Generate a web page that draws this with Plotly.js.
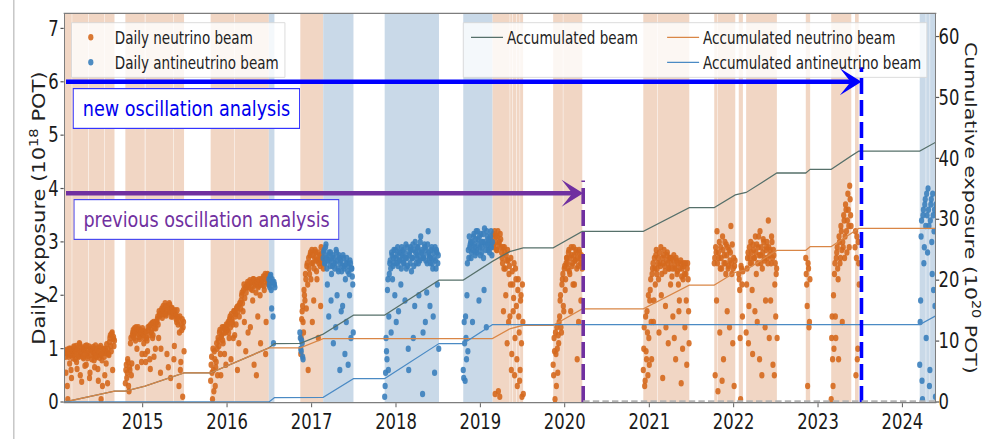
<!DOCTYPE html>
<html>
<head>
<meta charset="utf-8">
<script src="https://cdn.plot.ly/plotly-3.0.1.min.js"></script>
<style>
  html, body { margin: 0; padding: 0; background: #fff; overflow: hidden; width: 988px; height: 439px; }
  /* the figure is laid out 25% wider and squeezed back to 988 px, giving its narrow lettering */
  #chart { width: 1235px; height: 439px; transform: scaleX(0.8); transform-origin: 0 0; }
</style>
</head>
<body>
<div id="chart"></div>
<script>
// Days between stored samples of each daily exposure series; the "b" series sit halfway in between
const SAMPLE_DAYS = 4;
const B_OFFSET_DAYS = 2;

// Daily neutrino-mode exposure (10^18 POT), one pair of arrays per running period
const nuRunStarts = ['2014-01-30', '2014-10-18', '2015-10-22', '2016-11-15', '2019-02-22', '2019-11-12',
                     '2020-12-06', '2021-10-09', '2022-01-23', '2022-02-24', '2022-11-09', '2023-02-27', '2023-06-10'];
const nuRun1 = [0.92, 0.55, 0.98, 0.05, 0.85, 0.72, 1.0, 0.45, 0.95, 0.88, 1.02, 0.8, 1.05, 0.62, 0.97, 0.85, 1.08, 0.9,
                0.38, 1.0, 0.82, 0.96, 1.05, 0.7, 0.92, 0.86, 1.04, 0.55, 0.98, 0.8, 1.0, 0.9, 0.65, 1.06, 0.84, 0.95,
                0.4, 1.02, 0.88, 0.05, 0.78, 1.0, 0.92, 0.5, 0.96, 1.08, 0.35, 0.9, 1.12, 1.25, 0.95, 1.3, 1.18, 1.05];
const nuRun1b = [0.85, 0.95, 0.3, 0.9, 1.0, 0.88, 0.6, 0.97, 0.82, 1.04, 0.9, 0.95, 0.75, 1.0, 0.86, 1.1, 0.5, 0.93,
                 1.02, 0.85, 0.98, 0.68, 0.9, 1.06, 0.82, 0.97, 0.45, 1.0, 0.88, 0.95, 1.03, 0.78, 0.92, 0.86, 1.0, 0.62,
                 0.94, 0.83, 1.05, 0.9, 0.3, 0.97, 0.85, 1.0, 0.72, 0.92, 1.0, 0.88, 1.2, 1.05, 1.28, 0.6, 1.22, 1.15];
const nuRun2 = [0.35, 0.7, 0.55, 0.75, 0.2, 0.6, 1.2, 0.72, 1.3, 1.25, 1.38, 1.15, 1.32, 0.65, 1.4, 1.22, 1.35, 1.28,
                0.9, 1.33, 1.1, 1.3, 0.75, 1.2, 0.95, 1.35, 1.42, 0.62, 1.3, 1.48, 1.25, 0.85, 1.45, 1.38, 1.5, 1.6,
                1.2, 1.65, 0.55, 1.72, 1.58, 1.8, 1.7, 1.85, 1.62, 0.9, 1.78, 1.68, 1.82, 0.45, 1.75, 1.6, 1.7, 1.05,
                1.65, 1.55, 1.72, 1.45, 0.3, 1.6, 0.75, 1.35, 0.1, 1.5];
const nuRun2b = [0.6, 0.45, 0.8, 0.3, 0.65, 1.1, 0.5, 1.25, 1.35, 1.2, 1.3, 1.4, 1.0, 1.28, 1.36, 1.18, 1.3, 0.75,
                 1.38, 1.25, 1.2, 0.9, 1.32, 1.15, 1.4, 1.25, 0.8, 1.45, 1.35, 1.2, 1.5, 1.38, 1.0, 1.5, 1.55, 1.45,
                 1.7, 1.62, 1.0, 1.75, 1.65, 1.7, 1.78, 1.65, 1.8, 1.72, 0.65, 1.85, 1.7, 1.6, 1.76, 1.68, 0.8, 1.72,
                 1.62, 1.5, 1.6, 1.55, 1.3, 0.6, 1.45, 1.55, 1.4, 0.95];
const nuRun3 = [0.4, 0.85, 0.05, 0.6, 0.95, 0.3, 0.75, 1.0, 1.2, 1.05, 1.35, 0.5, 1.25, 1.15, 1.4, 0.9, 1.3, 1.45,
                1.35, 1.5, 1.2, 1.6, 0.8, 1.55, 1.45, 1.7, 1.25, 1.65, 1.75, 0.6, 1.8, 1.6, 1.85, 1.9, 2.05, 1.7,
                2.2, 1.95, 0.95, 2.15, 2.25, 2.15, 2.2, 1.4, 2.25, 2.1, 2.3, 0.7, 2.2, 2.05, 2.28, 1.6, 2.18, 2.22,
                1.1, 2.3, 2.2, 2.35, 2.1, 2.4, 1.5, 2.25, 2.38];
const nuRun3b = [0.7, 0.55, 1.0, 0.2, 0.8, 0.65, 1.1, 0.5, 1.15, 1.3, 0.9, 1.22, 1.4, 1.1, 1.3, 1.38, 0.7, 1.35,
                 1.45, 1.3, 1.55, 1.4, 1.65, 1.5, 1.2, 1.7, 1.6, 1.45, 1.78, 1.7, 1.1, 1.85, 1.75, 2.0, 1.85, 2.1,
                 1.5, 2.15, 2.05, 2.2, 1.3, 2.2, 2.28, 2.12, 2.25, 1.9, 2.3, 2.18, 2.22, 0.5, 2.25, 2.15, 2.3, 2.0,
                 2.2, 2.28, 2.3, 2.18, 2.35, 0.9, 2.28, 2.4, 2.2];
const nuRun4 = [0.9, 1.55, 1.8, 1.3, 2.0, 2.4, 1.75, 2.6, 0.6, 2.5, 2.75, 2.3, 2.85, 2.6, 1.9, 2.7, 2.8, 2.45, 2.65,
                1.2, 2.75, 2.55, 2.9, 2.6, 2.7];
const nuRun4b = [1.2, 1.7, 1.5, 2.1, 1.9, 2.3, 2.55, 2.2, 2.7, 2.4, 2.8, 2.6, 1.5, 2.75, 2.5, 2.85, 2.65, 2.3, 2.8,
                 2.6, 2.7, 1.8, 2.65, 2.8, 2.5];
const nuRun5 = [3.0, 3.15, 2.9, 0.15, 3.1, 2.85, 3.2, 2.95, 0.1, 3.05, 2.8, 2.6, 1.7, 2.9, 2.5, 2.75, 1.1, 2.65,
                2.4, 1.6, 2.7, 0.9, 2.2, 1.95, 0.5, 2.5, 1.8, 0.3, 2.3, 1.3, 0.6, 2.0, 0.1, 1.5];
const nuRun5b = [3.1, 2.95, 3.2, 3.0, 2.85, 3.1, 0.2, 3.0, 3.15, 2.9, 2.7, 2.9, 2.5, 2.8, 2.0, 2.65, 2.85, 1.5,
                 2.55, 2.2, 0.6, 2.45, 1.7, 2.6, 1.2, 2.3, 0.8, 2.1, 1.6, 0.4, 1.9, 1.1, 2.2, 0.15];
const nuRun6 = [0.7, 1.2, 0.05, 0.9, 1.4, 0.55, 1.1, 1.6, 2.0, 1.3, 2.3, 1.8, 2.5, 2.1, 2.6, 2.7, 2.5, 2.85, 2.4,
                1.7, 2.75, 2.6, 2.9, 2.2, 2.65, 2.8, 0.8, 2.55, 2.85, 2.7, 1.9, 2.6];
const nuRun6b = [0.5, 0.95, 1.3, 0.3, 1.0, 1.25, 1.5, 1.9, 1.4, 2.2, 2.4, 1.7, 2.55, 2.3, 2.7, 2.6, 2.8, 2.45, 2.7,
                 2.9, 2.55, 2.2, 2.75, 2.65, 2.85, 2.5, 2.7, 1.5, 2.8, 2.6, 2.75, 2.5];
const nuRun7 = [0.6, 1.4, 0.4, 0.95, 1.7, 0.5, 1.2, 1.9, 2.3, 0.8, 2.5, 1.5, 2.7, 2.2, 2.85, 2.5, 2.7, 1.3, 2.6,
                2.9, 2.4, 0.45, 2.75, 2.55, 1.8, 2.65, 2.8, 1.1, 2.5, 2.7, 2.6, 2.35, 1.6, 2.75, 2.5, 0.8, 2.65,
                2.45, 2.2, 1.9, 2.6, 0.35, 2.5, 2.3, 2.55, 1.4, 2.4, 0.7, 2.6, 1.7];
const nuRun7b = [1.0, 0.3, 1.6, 0.8, 1.3, 2.0, 0.7, 2.1, 1.5, 2.4, 2.6, 1.9, 2.5, 2.75, 2.4, 2.6, 2.3, 2.8, 2.55,
                 2.0, 2.7, 2.6, 2.85, 2.45, 1.4, 2.75, 2.6, 2.5, 2.7, 2.2, 2.7, 2.5, 2.65, 1.2, 2.55, 2.7, 2.4, 2.6,
                 1.7, 2.5, 2.65, 2.35, 1.0, 2.6, 2.4, 2.6, 1.9, 2.5, 2.3, 1.1];
const nuRun8 = [2.6, 0.5, 2.8, 3.2, 0.2, 2.7, 1.3, 2.9, 2.5, 3.1, 0.8, 2.75, 2.6, 2.95, 1.7, 2.5, 2.85, 2.65, 3.3,
                2.4, 1.1, 2.7, 2.55];
const nuRun8b = [2.7, 2.9, 1.9, 2.6, 2.8, 3.0, 2.5, 2.7, 0.4, 2.85, 2.6, 3.0, 2.4, 2.75, 2.9, 2.55, 1.4, 2.8, 2.6,
                 2.95, 2.5, 0.3, 2.65];
const nuRun9 = [2.4, 2.1, 0.05, 2.5, 1.6];
const nuRun9b = [2.3, 1.2, 2.55, 2.2, 2.45];
const nuRun10 = [1.3, 2.5, 2.8, 1.8, 2.7, 3.0, 2.6, 0.9, 2.85, 2.7, 3.1, 2.4, 1.5, 2.9, 2.75, 3.2, 2.6, 0.5, 2.8,
                 3.0, 2.65, 1.9, 2.9, 2.7, 3.4, 1.2, 2.85, 2.6, 3.0, 0.7, 2.75, 2.2, 1.6, 2.5];
const nuRun10b = [2.2, 2.7, 1.1, 2.9, 2.6, 2.8, 2.1, 2.95, 2.7, 1.7, 2.8, 2.95, 2.6, 3.1, 0.8, 2.75, 2.9, 2.5, 3.05,
                  2.7, 1.4, 2.85, 3.0, 2.6, 2.9, 2.75, 1.9, 3.1, 2.7, 2.85, 0.5, 2.6, 2.4, 1.2];
const nuRun11 = [2.7, 2.2, 0.3, 2.5, 1.5];
const nuRun11b = [2.4, 1.8, 2.6, 1.4, 2.3];
const nuRun12 = [0.05, 1.6, 0.3, 1.0, 2.6, 1.2, 2.8, 2.5, 0.8, 3.0, 2.7, 3.2, 1.5, 2.9, 3.4, 3.1, 3.6, 2.8, 3.9,
                 3.3, 4.05, 3.5];
const nuRun12b = [1.2, 0.8, 2.0, 2.4, 1.6, 2.7, 2.9, 2.3, 3.1, 2.6, 3.3, 2.85, 3.0, 3.5, 2.7, 3.7, 3.2, 3.4, 3.6,
                  2.9, 3.8, 3.3];
const nuRun13 = [2.9, 0.5, 3.1, 1.0, 2.6];
const nuRun13b = [3.2, 2.7, 0.8, 3.0, 2.2];

// Daily antineutrino-mode exposure (10^18 POT)
const antiRunStarts = ['2016-06-30', '2016-11-11', '2017-02-20', '2017-11-13', '2018-10-19', '2024-03-16'];
const antiRun1 = [2.3, 2.15, 2.38, 1.75, 2.25, 1.1, 2.2];
const antiRun1b = [2.2, 2.35, 2.1, 2.3, 1.6, 2.25, 2.15];
const antiRun2 = [1.3, 1.0, 1.15, 0.85];
const antiRun2b = [1.2, 0.95, 1.1, 0.8];
const antiRun3 = [2.7, 2.85, 2.6, 2.95, 2.5, 2.75, 1.6, 2.65, 2.8, 2.4, 2.55, 1.1, 2.7, 2.6, 2.85, 2.0, 2.5, 2.75,
                  0.6, 2.65, 2.45, 1.8, 2.7, 2.55, 2.3, 1.5, 2.6, 0.7, 2.4, 2.65, 1.2, 2.5, 2.2];
const antiRun3b = [2.8, 2.6, 2.9, 2.7, 2.2, 2.65, 2.8, 2.55, 1.9, 2.7, 2.75, 2.6, 2.5, 1.4, 2.8, 2.65, 2.45, 2.7,
                   2.6, 1.7, 2.55, 2.75, 2.5, 0.9, 2.6, 2.7, 2.45, 2.55, 2.0, 2.6, 2.5, 2.35, 1.3];
const antiRun4 = [0.1, 0.55, 0.95, 2.1, 0.6, 2.4, 2.65, 1.3, 2.75, 2.55, 2.85, 2.0, 2.7, 2.6, 2.9, 1.7, 2.65, 2.8,
                  2.5, 2.75, 2.85, 2.6, 1.9, 2.95, 2.7, 2.55, 0.6, 2.8, 2.9, 2.45, 2.7, 1.2, 2.85, 3.0, 2.6, 2.75,
                  2.9, 2.0, 2.65, 3.1, 2.8, 0.15, 2.7, 2.95, 1.5, 2.85, 2.6, 3.2, 2.75, 1.8, 2.7, 2.9, 2.5, 2.8,
                  0.55, 2.65, 2.85, 2.2, 2.75];
const antiRun4b = [0.3, 1.2, 0.8, 2.3, 1.6, 2.6, 2.5, 2.8, 2.3, 2.7, 2.6, 2.85, 1.5, 2.75, 2.55, 2.8, 2.65, 2.2,
                   2.9, 2.7, 2.6, 2.8, 2.7, 2.5, 2.9, 1.0, 2.75, 2.6, 2.85, 2.7, 2.95, 2.55, 1.8, 2.8, 2.7, 2.9,
                   2.6, 2.8, 3.0, 2.7, 2.85, 1.3, 2.75, 2.9, 2.65, 2.05, 2.95, 2.8, 2.7, 2.6, 2.85, 2.6, 1.6, 2.7,
                   2.9, 2.5, 2.8, 2.6, 1.0];
const antiRun5 = [0.6, 1.5, 0.4, 1.2, 2.0, 0.95, 2.7, 2.9, 3.0, 2.8, 1.5, 3.1, 2.95, 2.75, 3.2, 2.85, 3.05, 1.9,
                  2.9, 3.15, 2.8, 3.0, 2.7, 3.25, 2.95, 1.4, 3.1, 2.85, 3.0, 2.9, 3.2, 2.75];
const antiRun5b = [0.45, 1.1, 1.6, 0.8, 2.6, 2.85, 3.1, 2.95, 2.7, 3.0, 2.85, 3.15, 2.9, 3.05, 2.8, 3.2, 2.95, 3.1,
                   2.75, 3.0, 2.9, 3.15, 2.1, 3.0, 2.85, 3.2, 2.95, 3.05, 2.8, 3.1, 2.9, 3.0];
const antiRun6 = [0.7, 1.9, 3.4, 0.05, 3.6, 2.9, 3.8, 1.2, 3.5, 4.0, 3.3, 0.6, 3.7, 3.0, 3.9, 2.1, 3.6, 0.1];
const antiRun6b = [1.5, 3.1, 0.4, 3.5, 2.6, 3.7, 3.3, 3.9, 2.8, 3.6, 0.3, 3.4, 3.8, 2.4, 3.5, 3.2, 1.8, 3.7];

// Accumulated exposure (10^20 POT) at the corners of the running history
const cumDates = ['2014-01-29', '2014-09-01', '2014-10-18', '2015-01-11', '2015-06-29', '2015-10-22', '2016-06-30',
                  '2016-07-24', '2016-11-13', '2017-02-20', '2017-07-01', '2017-11-13', '2018-07-06', '2018-10-19',
                  '2019-02-22', '2019-05-08', '2019-07-05', '2019-11-12', '2020-03-17', '2020-12-06', '2021-06-23',
                  '2021-10-09', '2022-01-08', '2022-02-24', '2022-07-07', '2022-11-09', '2022-11-28', '2023-02-27',
                  '2023-05-25', '2023-06-26', '2024-03-16', '2024-05-22'];
const cumNu = [0, 1.8, 1.8, 2.6, 4.77, 4.77, 8.88, 8.88, 8.88, 10.4, 10.4, 10.4, 10.4, 10.4, 10.4, 12.0, 12.6, 12.6,
               15.3, 15.3, 19.2, 19.2, 21.3, 21.7, 24.9, 24.9, 25.5, 25.5, 27.7, 28.5, 28.5, 28.5];
const cumAnti = [0, 0, 0, 0, 0, 0, 0, 0.72, 0.75, 0.75, 3.85, 3.85, 9.6, 9.6, 12.7, 12.7, 12.7, 12.7, 12.7, 12.7,
                 12.7, 12.7, 12.7, 12.7, 12.7, 12.7, 12.7, 12.7, 12.7, 12.7, 12.7, 14.1];

// Beam-mode periods shaded in the background
const nuBands = [['2014-01-29', '2014-02-28'], ['2014-03-02', '2014-05-11'], ['2014-05-13', '2014-07-18'],
                 ['2014-07-20', '2014-09-01'], ['2014-10-18', '2015-01-10'], ['2015-01-13', '2015-05-14'],
                 ['2015-05-16', '2015-06-29'], ['2015-10-22', '2016-02-02'], ['2016-02-04', '2016-06-30'],
                 ['2016-11-13', '2017-02-20'], ['2019-02-22', '2019-05-08'], ['2019-05-10', '2019-05-20'],
                 ['2019-05-22', '2019-06-06'], ['2019-06-08', '2019-06-20'], ['2019-06-22', '2019-07-05'],
                 ['2019-11-12', '2019-12-24'], ['2019-12-26', '2020-03-17'], ['2020-12-06', '2021-02-05'],
                 ['2021-02-07', '2021-06-23'], ['2021-10-09', '2021-10-23'], ['2021-10-25', '2022-01-08'],
                 ['2022-01-23', '2022-02-10'], ['2022-02-24', '2022-07-07'], ['2022-11-09', '2022-11-28'],
                 ['2023-02-27', '2023-05-25'], ['2023-06-10', '2023-06-26']];
const antiBands = [['2016-06-30', '2016-07-24'], ['2017-02-20', '2017-07-01'], ['2017-11-13', '2018-07-06'],
                   ['2018-10-19', '2019-02-22'], ['2024-03-16', '2024-04-11'], ['2024-04-13', '2024-04-28'],
                   ['2024-04-30', '2024-06-30']];

// Analysis cut-off dates
const previousCutoff = '2020-03-21';
const newCutoff = '2023-07-08';

const yearTicks = ['2015-01-01', '2016-01-01', '2017-01-01', '2018-01-01', '2019-01-01',
                   '2020-01-01', '2021-01-01', '2022-01-01', '2023-01-01', '2024-01-01'];
const yearLabels = ['2015', '2016', '2017', '2018', '2019', '2020', '2021', '2022', '2023', '2024'];

const DAY_MS = 86400000;
function expandRuns(starts, runs, offsetDays) {
  const x = [], y = [];
  runs.forEach((vals, k) => {
    const t0 = Date.parse(starts[k] + 'T12:00:00Z') + offsetDays * DAY_MS;
    vals.forEach((v, i) => {
      x.push(new Date(t0 + i * SAMPLE_DAYS * DAY_MS).toISOString().slice(0, 10));
      y.push(v);
    });
  });
  return { x, y };
}
function merge(a, b) { return { x: a.x.concat(b.x), y: a.y.concat(b.y) }; }

const nuDaily = merge(
  expandRuns(nuRunStarts, [nuRun1, nuRun2, nuRun3, nuRun4, nuRun5, nuRun6, nuRun7,
                           nuRun8, nuRun9, nuRun10, nuRun11, nuRun12, nuRun13], 0),
  expandRuns(nuRunStarts, [nuRun1b, nuRun2b, nuRun3b, nuRun4b, nuRun5b, nuRun6b, nuRun7b,
                           nuRun8b, nuRun9b, nuRun10b, nuRun11b, nuRun12b, nuRun13b], B_OFFSET_DAYS));
const antiDaily = merge(
  expandRuns(antiRunStarts, [antiRun1, antiRun2, antiRun3, antiRun4, antiRun5, antiRun6], 0),
  expandRuns(antiRunStarts, [antiRun1b, antiRun2b, antiRun3b, antiRun4b, antiRun5b, antiRun6b], B_OFFSET_DAYS));
const cumTotal = cumNu.map((v, i) => +(v + cumAnti[i]).toFixed(2));

const ORANGE = '#d5691e', BLUE = '#3b7fbd';
const FONT = 'DejaVu Sans, sans-serif';

const traces = [
  { type: 'scatter', mode: 'markers', name: 'Daily neutrino beam', x: nuDaily.x, y: nuDaily.y,
    marker: { color: ORANGE, size: 6.5, opacity: 0.9 }, legend: 'legend', legendgroup: 'dnu' },
  { type: 'scatter', mode: 'markers', name: 'Daily antineutrino beam', x: antiDaily.x, y: antiDaily.y,
    marker: { color: BLUE, size: 6.5, opacity: 0.9 }, legend: 'legend', legendgroup: 'danti' },
  { type: 'scatter', mode: 'lines', name: 'Accumulated beam', x: cumDates, y: cumTotal, yaxis: 'y2',
    line: { color: '#56706a', width: 1.3 }, legend: 'legend2' },
  { type: 'scatter', mode: 'lines', name: 'Accumulated neutrino beam', x: cumDates, y: cumNu, yaxis: 'y2',
    line: { color: '#d98646', width: 1.3 }, legend: 'legend3', legendgroup: 'cnu' },
  { type: 'scatter', mode: 'lines', name: 'Accumulated antineutrino beam', x: cumDates, y: cumAnti, yaxis: 'y2',
    line: { color: '#4a8ac4', width: 1.3 }, legend: 'legend3', legendgroup: 'canti' }
];

const shapes = [];
nuBands.forEach(b => shapes.push({ type: 'rect', xref: 'x', yref: 'paper', x0: b[0], x1: b[1], y0: 0, y1: 1,
  fillcolor: '#f1d6c4', line: { width: 0 }, layer: 'below' }));
antiBands.forEach(b => shapes.push({ type: 'rect', xref: 'x', yref: 'paper', x0: b[0], x1: b[1], y0: 0, y1: 1,
  fillcolor: '#c9d9e8', line: { width: 0 }, layer: 'below' }));

// legend frames
shapes.push({ type: 'rect', xref: 'paper', yref: 'paper', x0: 0.0077, x1: 0.2529, y0: 0.8367, y1: 0.9776,
  fillcolor: 'rgba(255,255,255,0.8)', line: { color: '#d8d8d8', width: 1 }, layer: 'above' });
shapes.push({ type: 'rect', xref: 'paper', yref: 'paper', x0: 0.4578, x1: 0.9904, y0: 0.8367, y1: 0.9776,
  fillcolor: 'rgba(255,255,255,0.8)', line: { color: '#d8d8d8', width: 1 }, layer: 'above' });

// analysis cut-off markers
shapes.push({ type: 'line', xref: 'x', yref: 'y', x0: previousCutoff, x1: previousCutoff, y0: 0, y1: 4.15,
  line: { color: '#7030a0', width: 4.5, dash: '16px,6px' }, layer: 'above' });
shapes.push({ type: 'line', xref: 'x', yref: 'y', x0: newCutoff, x1: newCutoff, y0: 0, y1: 6.27,
  line: { color: '#0000ff', width: 4.5, dash: '16px,6px' }, layer: 'above' });
shapes.push({ type: 'line', xref: 'x', yref: 'y', x0: previousCutoff, x1: '2024-05-22', y0: 0.015, y1: 0.015,
  line: { color: '#b4b4b4', width: 2, dash: '8px,4px' }, layer: 'above' });
// page edge rule
shapes.push({ type: 'line', xref: 'paper', yref: 'paper', x0: -0.0586, x1: -0.0586, y0: -0.1, y1: 1.04,
  line: { color: '#c4c4c4', width: 1.8 }, layer: 'above' });

const annotations = [
  { xref: 'x', yref: 'y', axref: 'x', ayref: 'y', x: newCutoff, y: 6.0, ax: '2014-01-29', ay: 6.0, text: '',
    showarrow: true, arrowhead: 3, arrowsize: 1.0, arrowwidth: 4.5, arrowcolor: '#0000ff' },
  { xref: 'x', yref: 'y', axref: 'x', ayref: 'y', x: previousCutoff, y: 3.91, ax: '2014-01-29', ay: 3.91, text: '',
    showarrow: true, arrowhead: 3, arrowsize: 1.0, arrowwidth: 4.5, arrowcolor: '#7030a0' },
  { xref: 'paper', yref: 'paper', x: 0.1397, y: 0.7575, xanchor: 'center', yanchor: 'middle',
    text: 'new oscillation analysis', showarrow: false, width: 270, height: 27, borderpad: 6,
    bgcolor: '#ffffff', bordercolor: '#3434ff', borderwidth: 1.2,
    font: { family: FONT, size: 22, color: '#0000ee' } },
  { xref: 'paper', yref: 'paper', x: 0.1624, y: 0.4712, xanchor: 'center', yanchor: 'middle',
    text: 'previous oscillation analysis', showarrow: false, width: 318, height: 27, borderpad: 6,
    bgcolor: '#ffffff', bordercolor: '#4a4af0', borderwidth: 1.2,
    font: { family: FONT, size: 22, color: '#7030a0' } },
  { xref: 'paper', yref: 'paper', x: -0.0305, y: 0.5, xanchor: 'center', yanchor: 'middle', textangle: -90,
    text: 'Daily exposure (10<sup>18</sup> POT)', showarrow: false,
    font: { family: FONT, size: 21, color: '#222' } },
  { xref: 'paper', yref: 'paper', x: 1.0425, y: 0.5, xanchor: 'center', yanchor: 'middle', textangle: 90,
    text: 'Cumulative exposure (10<sup>20</sup> POT)', showarrow: false,
    font: { family: FONT, size: 20.5, color: '#222' } }
];

const legendCommon = { xanchor: 'left', yanchor: 'top', y: 0.985, bgcolor: 'rgba(0,0,0,0)', borderwidth: 0,
  font: { family: FONT, size: 16.9, color: '#222' }, tracegroupgap: 0, traceorder: 'grouped' };

const layout = {
  width: 1235, height: 439,
  margin: { l: 81.25, r: 66.25, t: 14, b: 37.3, pad: 0 },
  paper_bgcolor: '#ffffff', plot_bgcolor: '#ffffff',
  showlegend: true,
  legend: Object.assign({ x: 0.0023, itemwidth: 50 }, legendCommon),
  legend2: Object.assign({ x: 0.4621, itemwidth: 40 }, legendCommon),
  legend3: Object.assign({ x: 0.6874, itemwidth: 40 }, legendCommon),
  xaxis: {
    type: 'date', range: ['2014-01-29', '2024-05-22'],
    tickvals: yearTicks, ticktext: yearLabels,
    ticks: 'outside', ticklen: 4, tickcolor: '#555', tickwidth: 1.2, ticklabelstandoff: -3,
    showgrid: false, zeroline: false,
    showline: true, mirror: true, linecolor: '#7d7d7d', linewidth: 1.2,
    tickfont: { family: FONT, size: 20.5, color: '#1a1a1a' }
  },
  yaxis: {
    range: [0, 7.27], tickvals: [0, 1, 2, 3, 4, 5, 6, 7],
    ticks: 'outside', ticklen: 4, tickcolor: '#555', tickwidth: 1.2, ticklabelstandoff: -2,
    showgrid: false, zeroline: false,
    showline: true, mirror: true, linecolor: '#7d7d7d', linewidth: 1.4,
    tickfont: { family: FONT, size: 20.5, color: '#1a1a1a' }
  },
  yaxis2: {
    overlaying: 'y', side: 'right', range: [0, 63.7], tickvals: [0, 10, 20, 30, 40, 50, 60],
    ticks: 'outside', ticklen: 4, tickcolor: '#555', tickwidth: 1.2, ticklabelstandoff: -5,
    showgrid: false, zeroline: false, showline: false,
    tickfont: { family: FONT, size: 20.5, color: '#1a1a1a' }
  },
  shapes: shapes,
  annotations: annotations
};

Plotly.newPlot('chart', traces, layout, { staticPlot: true, displayModeBar: false });
</script>
</body>
</html>
